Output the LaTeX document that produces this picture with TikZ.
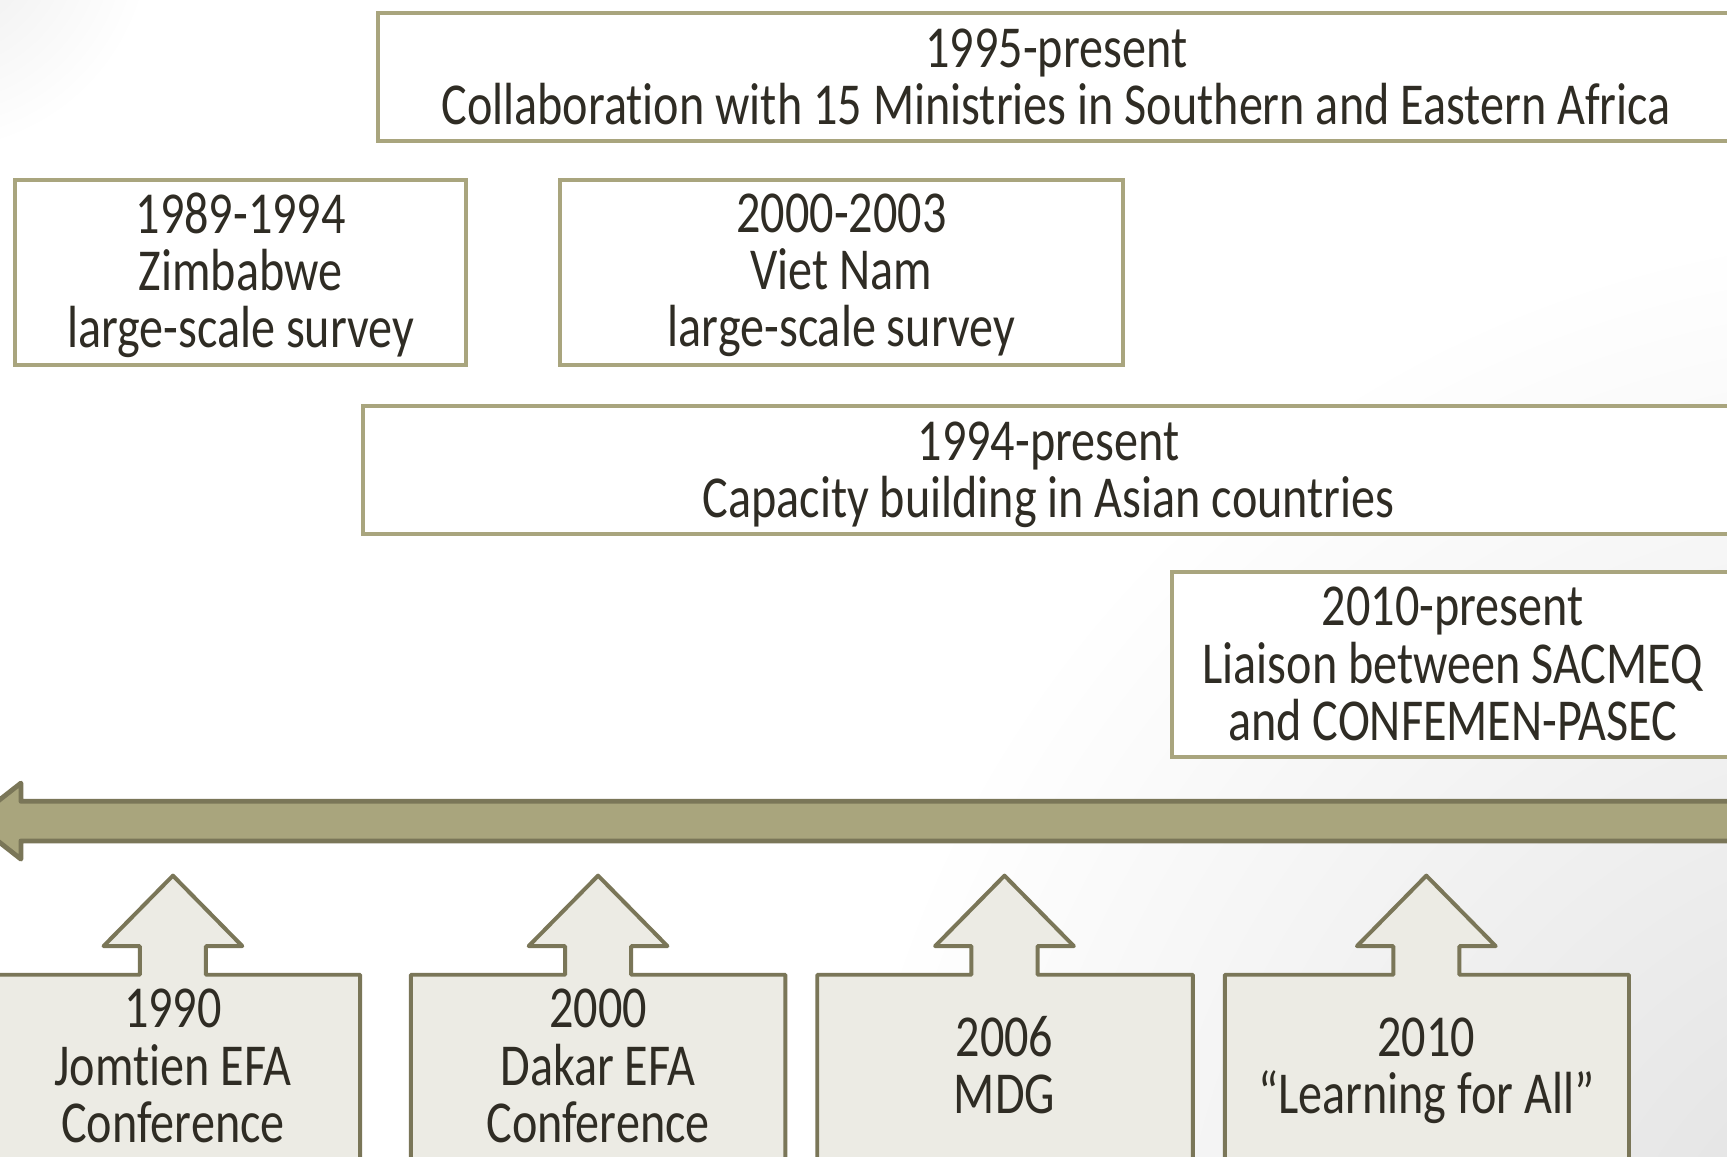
\documentclass[tikz,border=0pt]{standalone}
\usepackage{fontspec}
\setmainfont{Carlito}
\newfontfamily\tlfont[FakeStretch=0.81,Ligatures=NoCommon]{Carlito}
\definecolor{boxc}{HTML}{A9A57E}
\definecolor{txtc}{HTML}{2F2C24}
\definecolor{bandfill}{HTML}{A9A57D}
\definecolor{darkc}{HTML}{7A7658}
\definecolor{callfill}{HTML}{ECEBE4}
\definecolor{bgc}{HTML}{DEDEDE}
\begin{document}
\begin{tikzpicture}[x=0.5pt,y=-0.5pt,
  txt/.style={align=center, text=txtc, inner sep=0pt, font=\tlfont\fontsize{27}{26}\selectfont},
  period/.style={txt, draw=boxc, line width=1.8pt, fill=white},
  callout/.style={draw=darkc, fill=callfill, line width=1.8pt, line join=round},
  band/.style={draw=darkc, fill=bandfill, line width=2.2pt, line join=round}
]
\useasboundingbox (0,0) rectangle (1568,1050);
\clip (0,0) rectangle (1568,1050);
% background
\fill[white] (0,0) rectangle (1568,1050);
\shade[inner color=bgc, outer color=white] (1750,1200) circle (1000);
\shade[inner color=bgc!60, outer color=white] (-60,-60) circle (200);

% period boxes
\node[period, minimum width=616pt, minimum height=58pt] (p1995) at (959,70)
  {1995-present\\Collaboration with 15 Ministries in Southern and Eastern Africa};
\node[period, minimum width=204.5pt, minimum height=84pt] (p1989) at (218.5,247) {};
\node[period, minimum width=256pt, minimum height=84pt] (p2000) at (764,247) {};
\node[period, minimum width=622pt, minimum height=58pt] (p1994) at (952,427) {};
\node[period, minimum width=255pt, minimum height=84pt] (p2010) at (1319,603)
  {2010-present\\Liaison between SACMEQ\\and CONFEMEN-PASEC};
\node[txt] (t1989) at (218.5,250) {1989-1994\\Zimbabwe\\large-scale survey};
\node[txt] (t2000) at (764,250) {2000-2003\\Viet Nam\\large-scale survey};
\node[txt] (t1994) at (952,431) {1994-present\\Capacity building in Asian countries};

% timeline band
\draw[band] (1620,727.5) -- (19,727.5) -- (19,711) -- (-25,745.5) -- (19,780)
  -- (19,763.5) -- (1620,763.5);

% callouts
\foreach \L/\R/\c in {-15/329/157, 371/715/543, 740/1085/912, 1110/1481/1295}{
  \draw[callout] (\L+2,1070) -- (\L+2,885) -- (\c-30,885) -- (\c-30,859)
    -- (\c-63,859) -- (\c,795) -- (\c+63,859) -- (\c+30,859) -- (\c+30,885)
    -- (\R-2,885) -- (\R-2,1070);
}
\node[txt] (e1990) at (157,968) {1990\\Jomtien EFA\\Conference};
\node[txt] (e2000) at (543,968) {2000\\Dakar EFA\\Conference};
\node[txt] (e2006) at (912,967) {2006\\MDG};
\node[txt] (e2010) at (1295,972) {2010\\\char"201C Learning for All\char"201D};
\end{tikzpicture}
\end{document}
